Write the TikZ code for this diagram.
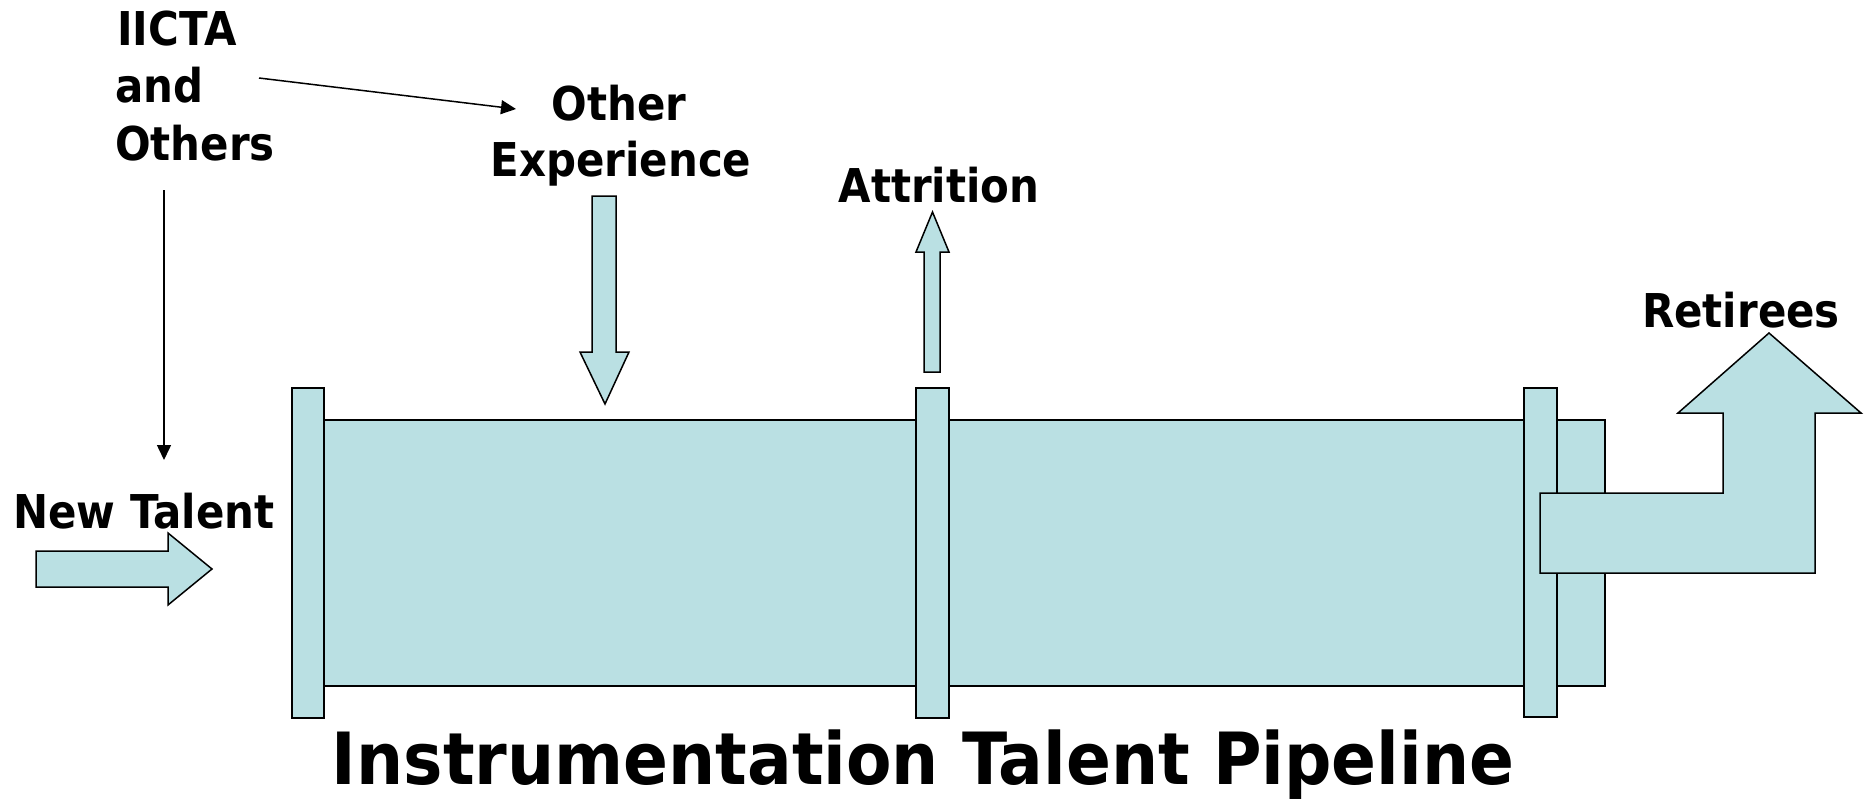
\documentclass[tikz,border=0pt]{standalone}
\usepackage{fontspec}
\newfontfamily\lblfont[FakeStretch=0.9]{DejaVu Sans}
\newfontfamily\ttlfont[FakeStretch=0.92]{DejaVu Sans}
\usetikzlibrary{arrows.meta}
\definecolor{pipefill}{RGB}{186,224,227}
\tikzset{
  pipepart/.style={fill=pipefill, draw=black, line width=1.5pt, line join=miter},
  lbl/.style={inner sep=0pt, anchor=base, font=\lblfont\bfseries\fontsize{46.6}{56}\selectfont},
  lblw/.style={lbl, anchor=base west},
  ttl/.style={inner sep=0pt, anchor=base, font=\ttlfont\bfseries\fontsize{72}{80}\selectfont},
  thinarrow/.style={draw=black, line width=1.5pt, -{Triangle[length=15pt,width=14pt]}}
}
\begin{document}
\begin{tikzpicture}[x=1pt,y=-1pt]
\useasboundingbox (0,0) rectangle (1864,803);
% pipe body
\draw[pipepart] (300,420) rectangle (1605,686);
% flanges
\draw[pipepart] (292,388) rectangle (324,718);
\draw[pipepart] (916,388) rectangle (949,718);
\draw[pipepart] (1524,388) rectangle (1557,717);
% Retirees arrow
\draw[pipepart] (1540,493) -- (1723,493) -- (1723,413) -- (1678,413) -- (1769,333)
  -- (1861,413) -- (1815,413) -- (1815,573) -- (1540,573) -- cycle;
% Attrition arrow
\draw[pipepart] (924,372) -- (940,372) -- (940,252) -- (949,252) -- (932.5,212)
  -- (916,252) -- (924,252) -- cycle;
% Other experience arrow
\draw[pipepart] (592,196) -- (616,196) -- (616,352) -- (629,352) -- (605,404)
  -- (580,352) -- (592,352) -- cycle;
% New talent arrow
\draw[pipepart] (36,551) -- (168,551) -- (168,533) -- (212,569) -- (168,605)
  -- (168,587) -- (36,587) -- cycle;
% labels
\node[lblw] (iicta) at (117,45) {IICTA};
\node[lblw] (and) at (115,102) {and};
\node[lblw] (others) at (115,160) {Others};
\node[lbl] (other) at (619,120) {Other};
\node[lbl] (exper) at (621,176) {Experience};
\node[lbl] (attr) at (939,202) {Attrition};
\node[lbl] (ret) at (1741,327) {Retirees};
\node[lbl] (newt) at (144,528) {New Talent};
\node[ttl] (title) at (923,784) {Instrumentation Talent Pipeline};
% thin connectors
\coordinate (c1) at (259,78);
\coordinate (c2) at (516,109);
\draw[thinarrow] (c1) -- (c2);
\coordinate (v1) at (164,190);
\coordinate (v2) at (164,460);
\draw[thinarrow] (v1) -- (v2);
\end{tikzpicture}
\end{document}
